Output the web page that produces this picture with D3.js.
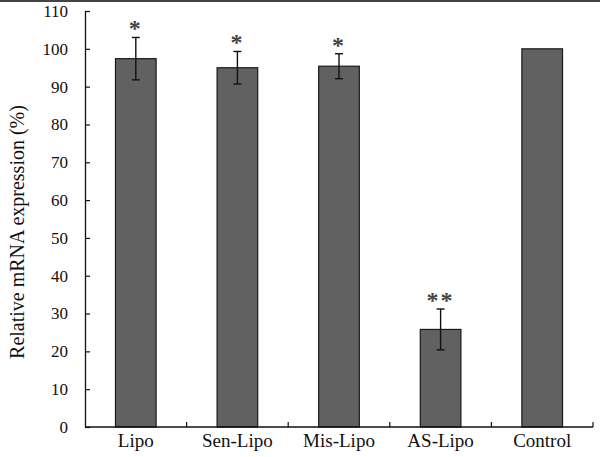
<!DOCTYPE html>
<html><head><meta charset="utf-8">
<script src="https://cdn.jsdelivr.net/npm/d3@7"></script>
<style>body{margin:0;background:#fff}svg{display:block}</style>
</head><body>
<script>
const categories = ["Lipo","Sen-Lipo","Mis-Lipo","AS-Lipo","Control"];
const values = [97.4, 95.0, 95.4, 25.8, 100];
const errors = [5.6, 4.3, 3.3, 5.4, 0];
const marks = ["*","*","*","**",""];
const yTicks = [0,10,20,30,40,50,60,70,80,90,100,110];

const W=600,H=457;
const svg=d3.select("body").append("svg").attr("width",W).attr("height",H);
svg.append("line").attr("x1",0).attr("x2",W).attr("y1",1).attr("y2",1).attr("stroke","#444").attr("stroke-width",2);

const x=d3.scaleBand().domain(categories).range([85,593]).paddingInner(0.6).paddingOuter(0.3);
const y=d3.scaleLinear().domain([0,110]).range([427,11]);
const font="'Liberation Serif', 'Times New Roman', serif";

// bars
svg.selectAll("rect.bar").data(categories).enter().append("rect")
 .attr("x",d=>x(d)).attr("width",x.bandwidth())
 .attr("y",(d,i)=>y(values[i])).attr("height",(d,i)=>y(0)-y(values[i]))
 .attr("fill","#616161").attr("stroke","#1a1a1a").attr("stroke-width",1.2);

// error bars
categories.forEach((c,i)=>{
  if(!errors[i]) return;
  const cx=x(c)+x.bandwidth()/2;
  const g=svg.append("g").attr("stroke","#111").attr("stroke-width",1.4);
  g.append("line").attr("x1",cx).attr("x2",cx).attr("y1",y(values[i]+errors[i])).attr("y2",y(values[i]-errors[i]));
  g.append("line").attr("x1",cx-4).attr("x2",cx+4).attr("y1",y(values[i]+errors[i])).attr("y2",y(values[i]+errors[i]));
  g.append("line").attr("x1",cx-4).attr("x2",cx+4).attr("y1",y(values[i]-errors[i])).attr("y2",y(values[i]-errors[i]));
  svg.append("text").attr("x",cx).attr("y",y(values[i]+errors[i])-1)
   .attr("text-anchor","middle").attr("font-family",font).attr("font-size",24).attr("font-weight","bold")
   .attr("letter-spacing",2).attr("fill","#444").text(marks[i]);
});

// y axis
const ya=svg.append("g").attr("transform","translate(85,0)")
 .call(d3.axisLeft(y).tickValues(yTicks).tickSizeInner(-5).tickSizeOuter(0).tickPadding(17));
ya.select(".domain").attr("stroke","#111").attr("stroke-width",1.3);
ya.selectAll(".tick line").attr("stroke","#111").attr("stroke-width",1.2);
ya.selectAll("text").attr("font-family",font).attr("font-size",17).attr("fill","#111");

// x axis
const xa=svg.append("g").attr("transform","translate(0,427)")
 .call(d3.axisBottom(x).tickSize(0).tickPadding(7));
xa.select(".domain").attr("stroke","#111").attr("stroke-width",1.3).attr("d","M85,0H593");
xa.selectAll("text").attr("font-family",font).attr("font-size",19).attr("fill","#111");
const seps=d3.range(1,categories.length+1).map(i=>85+(593-85)/categories.length*i);
xa.selectAll("line.sep").data(seps).enter().append("line").attr("class","sep")
 .attr("x1",d=>d).attr("x2",d=>d).attr("y1",0).attr("y2",-5).attr("stroke","#111").attr("stroke-width",1.2);

// y title
svg.append("text").attr("transform","translate(24,232) rotate(-90)")
 .attr("text-anchor","middle").attr("font-family",font).attr("font-size",20).attr("fill","#111")
 .text("Relative mRNA expression (%)");
</script>
</body></html>
